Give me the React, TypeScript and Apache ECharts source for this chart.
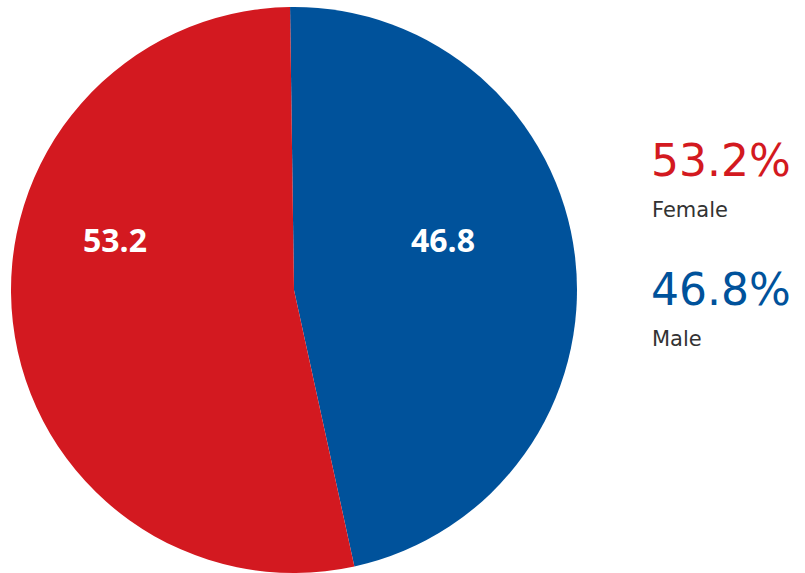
import React, { useEffect, useRef } from "react";
import * as echarts from "echarts";

const categories = ["Male", "Female"];
const values = [46.8, 53.2];
const colors = ["#00529B", "#D31920"];
const legendOrder = ["Female", "Male"];

export default function App() {
  const ref = useRef<HTMLDivElement>(null);
  useEffect(() => {
    document.body.style.margin = "0";
    const chart = echarts.init(ref.current!, null, { renderer: "svg" });
    const labelPos: Record<string, [number, number]> = {
      Male: [443, 239],
      Female: [115, 239],
    };
    const legendGraphics: any[] = [];
    legendOrder.forEach((name, i) => {
      const idx = categories.indexOf(name);
      const mid = 160.5 + i * 129;
      legendGraphics.push({
        type: "text",
        x: 651,
        y: mid,
        style: {
          text: values[idx].toFixed(1) + "%",
          fill: colors[idx],
          font: "44px 'DejaVu Sans'",
          verticalAlign: "middle",
        },
      });
      legendGraphics.push({
        type: "text",
        x: 652,
        y: mid + 49,
        style: {
          text: name,
          fill: "#333333",
          font: "21px 'DejaVu Sans'",
          verticalAlign: "middle",
        },
      });
    });
    chart.setOption({
      animation: false,
      backgroundColor: "#ffffff",
      series: [
        {
          type: "pie",
          center: [294, 290],
          radius: 283,
          startAngle: 90.8,
          clockwise: true,
          data: categories.map((c, i) => ({
            name: c,
            value: values[i],
            itemStyle: { color: colors[i] },
          })),
          label: {
            show: true,
            position: "inside",
            formatter: (p: any) => p.value.toFixed(1),
            color: "#ffffff",
            fontFamily: "Open Sans",
            fontWeight: "bold",
            fontSize: 32,
          },
          labelLine: { show: false },
          labelLayout: (params: any) => {
            const name = categories[params.dataIndex];
            const pos = labelPos[name];
            return { x: pos[0], y: pos[1], align: "center", verticalAlign: "middle" };
          },
          emphasis: { disabled: true },
        },
      ],
      graphic: legendGraphics,
    });
    return () => chart.dispose();
  }, []);
  return <div ref={ref} style={{ width: 805, height: 573 }} />;
}
